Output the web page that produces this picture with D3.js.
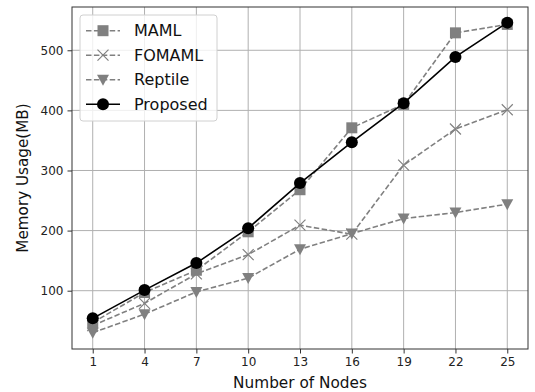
<!DOCTYPE html>
<html>
<head>
<meta charset="utf-8">
<script src="https://cdn.jsdelivr.net/npm/d3@7"></script>
<style>
  body { margin: 0; background: #fff; }
  svg { display: block; font-family: "DejaVu Sans", sans-serif; }
</style>
</head>
<body>
<div id="chart"></div>
<script>
// Data
const nodes = [1, 4, 7, 10, 13, 16, 19, 22, 25];
const maml = [47, 97, 134, 198, 268, 371, 410, 529, 543];
const fomaml = [42, 79, 128, 160, 209, 194, 309, 369, 401];
const reptile = [30, 61, 98, 121, 169, 195, 220, 230, 244];
const proposed = [54, 101, 146, 204, 279, 347, 412, 489, 546];
const yTicks = [100, 200, 300, 400, 500];

const series = [
    { name: "MAML", values: maml, color: "#808080", dash: "5.5,2.4", marker: "square" },
    { name: "FOMAML", values: fomaml, color: "#808080", dash: "5.5,2.4", marker: "x" },
    { name: "Reptile", values: reptile, color: "#808080", dash: "5.5,2.4", marker: "tri" },
    { name: "Proposed", values: proposed, color: "#000000", dash: null, marker: "circle" }
];

const width = 535, height = 392;
const margin = { left: 72, right: 7, top: 7, bottom: 43 };

const svg = d3.select("#chart").append("svg")
    .attr("width", width)
    .attr("height", height);

const x = d3.scaleLinear()
    .domain([-0.2, 26.2])
    .range([margin.left, width - margin.right]);

const y = d3.scaleLinear()
    .domain([3, 572])
    .range([height - margin.bottom, margin.top]);

const plotBottom = height - margin.bottom;

// Grid
const grid = svg.append("g");
grid.selectAll(".vg").data(nodes).join("line")
    .attr("x1", d => x(d)).attr("x2", d => x(d))
    .attr("y1", margin.top).attr("y2", plotBottom)
    .attr("stroke", "#b0b0b0").attr("stroke-width", 1);
grid.selectAll(".hg").data(yTicks).join("line")
    .attr("x1", margin.left).attr("x2", width - margin.right)
    .attr("y1", d => y(d)).attr("y2", d => y(d))
    .attr("stroke", "#b0b0b0").attr("stroke-width", 1);

// Axes
const xAxis = svg.append("g")
    .attr("transform", `translate(0,${plotBottom})`)
    .call(d3.axisBottom(x).tickValues(nodes).tickSize(4.5).tickPadding(4));
const yAxis = svg.append("g")
    .attr("transform", `translate(${margin.left},0)`)
    .call(d3.axisLeft(y).tickValues(yTicks).tickSize(4.5).tickPadding(4));

[xAxis, yAxis].forEach(a => {
    a.select(".domain").remove();
    a.selectAll(".tick line").attr("stroke", "#333");
    a.selectAll(".tick text")
        .attr("fill", "#222")
        .style("font-size", "12px")
        .style("font-family", "DejaVu Sans");
});

// Frame
svg.append("rect")
    .attr("x", margin.left).attr("y", margin.top)
    .attr("width", width - margin.right - margin.left)
    .attr("height", plotBottom - margin.top)
    .attr("fill", "none")
    .attr("stroke", "#333")
    .attr("stroke-width", 1);

// Marker drawing
function drawMarker(sel, type, color) {
    if (type === "square") {
        sel.append("rect")
            .attr("x", -5.5).attr("y", -5.5)
            .attr("width", 11).attr("height", 11)
            .attr("fill", color);
    } else if (type === "circle") {
        sel.append("circle").attr("r", 6).attr("fill", color);
    } else if (type === "tri") {
        sel.append("path")
            .attr("d", "M-6,-5 L6,-5 L0,6 Z")
            .attr("fill", color);
    } else if (type === "x") {
        sel.append("path")
            .attr("d", "M-5.5,-5.5 L5.5,5.5 M-5.5,5.5 L5.5,-5.5")
            .attr("stroke", color)
            .attr("stroke-width", 1.2)
            .attr("fill", "none");
    }
}

const line = d3.line()
    .x(d => x(d[0]))
    .y(d => y(d[1]));

series.forEach(s => {
    const pts = nodes.map((n, i) => [n, s.values[i]]);
    const g = svg.append("g");
    g.append("path")
        .datum(pts)
        .attr("d", line)
        .attr("fill", "none")
        .attr("stroke", s.color)
        .attr("stroke-width", 1.6)
        .attr("stroke-dasharray", s.dash);
    g.selectAll("g")
        .data(pts)
        .join("g")
        .attr("transform", d => `translate(${x(d[0])},${y(d[1])})`)
        .each(function () { drawMarker(d3.select(this), s.marker, s.color); });
});

// Axis labels
svg.append("text")
    .attr("x", (margin.left + width - margin.right) / 2)
    .attr("y", 388)
    .attr("text-anchor", "middle")
    .style("font-size", "15.3px")
    .attr("fill", "#111")
    .text("Number of Nodes");

svg.append("text")
    .attr("transform", `translate(27.5,${(margin.top + plotBottom) / 2}) rotate(-90)`)
    .attr("text-anchor", "middle")
    .style("font-size", "15.2px")
    .attr("fill", "#111")
    .text("Memory Usage(MB)");

// Legend
const legend = svg.append("g");
legend.append("rect")
    .attr("x", 80).attr("y", 15)
    .attr("width", 137).attr("height", 106)
    .attr("rx", 3)
    .attr("fill", "#fff").attr("fill-opacity", 0.8)
    .attr("stroke", "#d0d0d0");

series.forEach((s, i) => {
    const ly = 30.7 + i * 24.5;
    const item = legend.append("g");
    item.append("line")
        .attr("x1", 86).attr("x2", 120)
        .attr("y1", ly).attr("y2", ly)
        .attr("stroke", s.color)
        .attr("stroke-width", 1.6)
        .attr("stroke-dasharray", s.dash);
    const m = item.append("g").attr("transform", `translate(103,${ly})`);
    drawMarker(m, s.marker, s.color);
    item.append("text")
        .attr("x", 134).attr("y", ly + 5.6)
        .style("font-size", "16px")
        .attr("fill", "#111")
        .text(s.name);
});
</script>
</body>
</html>
